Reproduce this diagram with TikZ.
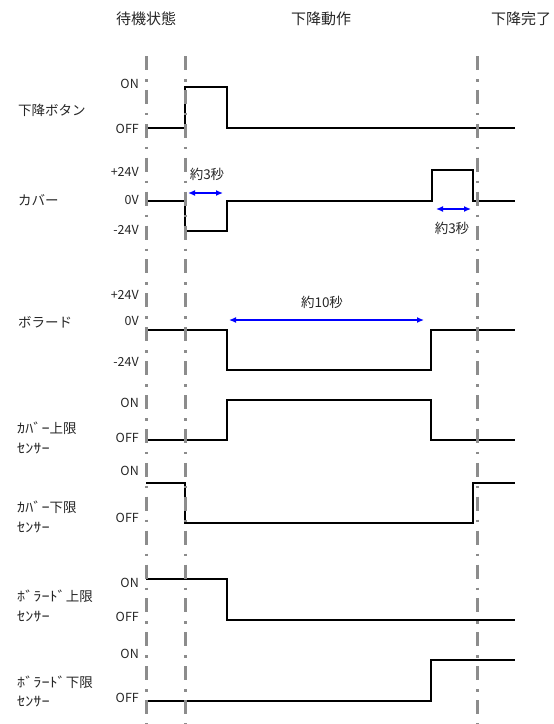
\documentclass[tikz,border=0pt]{standalone}
\usepackage{fontspec}
\setmainfont{Noto Sans CJK JP}
\newfontfamily\hwfont[FakeStretch=1.2]{Noto Sans CJK JP}
\usetikzlibrary{arrows.meta}
\definecolor{guide}{HTML}{8C8C8C}
\definecolor{txt}{HTML}{262626}
\newcommand{\hw}[1]{{\hwfont #1}}
\begin{document}
\begin{tikzpicture}[x=1pt,y=-1pt,
  guideline/.style={draw=guide, line width=3pt, dash pattern=on 14pt off 9pt on 2.5pt off 8.4pt},
  signal/.style={draw=black, line width=2.1pt, line join=miter},
  hdtext/.style={font=\fontsize{15}{18}\selectfont, text=txt, inner sep=0},
  signame/.style={font=\fontsize{13.5}{16}\selectfont, anchor=west, text=txt, inner sep=0},
  lvltext/.style={font=\fontsize{12.5}{15}\selectfont, anchor=east, text=txt, inner sep=0},
  durtext/.style={font=\fontsize{13.5}{16}\selectfont, text=txt, inner sep=0},
  spanarrow/.style={draw=blue, line width=1.3pt, {Latex[length=7pt,width=6pt]}-{Latex[length=7pt,width=6pt]}}]
\useasboundingbox (0,0) rectangle (554,724);

% headers
\node[hdtext] (h1) at (146,19) {待機状態};
\node[hdtext] (h2) at (321,19) {下降動作};
\node[hdtext] (h3) at (521,19) {下降完了};

% signal names
\node[signame] (n1) at (18,110) {下降ボタン};
\node[signame] (n2) at (18,200) {カバー};
\node[signame] (n3) at (18,322) {ボラード};
\node[signame] (n4a) at (17,428) {\hw{ｶﾊﾞｰ}上限};
\node[signame] (n4b) at (17,449) {\hw{ｾﾝｻｰ}};
\node[signame] (n5a) at (17,507) {\hw{ｶﾊﾞｰ}下限};
\node[signame] (n5b) at (17,528) {\hw{ｾﾝｻｰ}};
\node[signame] (n6a) at (17,596) {\hw{ﾎﾞﾗｰﾄﾞ}上限};
\node[signame] (n6b) at (17,617) {\hw{ｾﾝｻｰ}};
\node[signame] (n7a) at (17,682) {\hw{ﾎﾞﾗｰﾄﾞ}下限};
\node[signame] (n7b) at (17,702) {\hw{ｾﾝｻｰ}};

% level labels
\node[lvltext] (l1a) at (139,84) {ON};
\node[lvltext] (l1b) at (139,129) {OFF};
\node[lvltext] (l2a) at (139,172) {+24V};
\node[lvltext] (l2b) at (139,200) {0V};
\node[lvltext] (l2c) at (139,230) {-24V};
\node[lvltext] (l3a) at (139,295) {+24V};
\node[lvltext] (l3b) at (139,321) {0V};
\node[lvltext] (l3c) at (139,362) {-24V};
\node[lvltext] (l4a) at (139,403) {ON};
\node[lvltext] (l4b) at (139,438) {OFF};
\node[lvltext] (l5a) at (139,471) {ON};
\node[lvltext] (l5b) at (139,518) {OFF};
\node[lvltext] (l6a) at (139,583) {ON};
\node[lvltext] (l6b) at (139,617) {OFF};
\node[lvltext] (l7a) at (139,654) {ON};
\node[lvltext] (l7b) at (139,698) {OFF};

% waveforms
\draw[signal] (146,128) -- (185,128) -- (185,87) -- (227,87) -- (227,128) -- (515,128);
\draw[signal] (146,201) -- (185,201) -- (185,231) -- (227,231) -- (227,201) -- (432,201) -- (432,170) -- (473,170) -- (473,201) -- (515,201);
\draw[signal] (146,330) -- (227,330) -- (227,370) -- (431,370) -- (431,330) -- (515,330);
\draw[signal] (146,440) -- (227,440) -- (227,400) -- (431,400) -- (431,440) -- (515,440);
\draw[signal] (146,483) -- (185,483) -- (185,523) -- (473,523) -- (473,483) -- (515,483);
\draw[signal] (146,579) -- (227,579) -- (227,620) -- (515,620);
\draw[signal] (146,701) -- (431,701) -- (431,660) -- (515,660);

% guide lines
\coordinate (g1t) at (146,56); \coordinate (g1b) at (146,724);
\coordinate (g2t) at (185,56); \coordinate (g2b) at (185,724);
\coordinate (g3t) at (477,56); \coordinate (g3b) at (477,724);
\draw[guideline] (g1t) -- (g1b);
\draw[guideline] (g2t) -- (g2b);
\draw[guideline] (g3t) -- (g3b);

% durations
\coordinate (a1s) at (188,193); \coordinate (a1e) at (223,193);
\draw[spanarrow] (a1s) -- (a1e);
\node[durtext] (d1) at (207,174) {約3秒};
\coordinate (a2s) at (436,209); \coordinate (a2e) at (471,209);
\draw[spanarrow] (a2s) -- (a2e);
\node[durtext] (d2) at (452,228) {約3秒};
\coordinate (a3s) at (229,320); \coordinate (a3e) at (424,320);
\draw[spanarrow] (a3s) -- (a3e);
\node[durtext] (d3) at (322,302) {約10秒};
\end{tikzpicture}
\end{document}
